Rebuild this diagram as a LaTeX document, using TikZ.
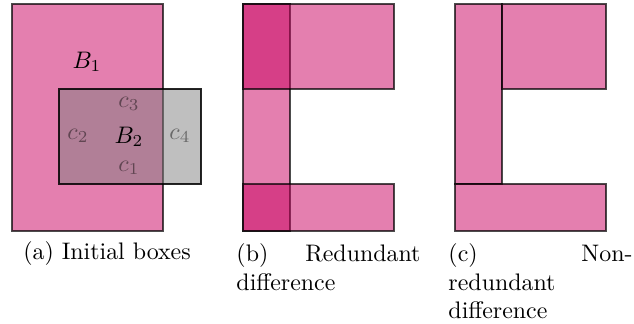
\documentclass[tikz,border=0pt]{standalone}
\definecolor{pinkC}{RGB}{201,0,95}
\tikzset{
  box/.style={fill=pinkC, fill opacity=0.5, draw=black, draw opacity=0.7, line width=0.45pt},
  greybox/.style={fill=gray, fill opacity=0.5, draw=black, draw opacity=0.85, line width=0.45pt},
  lab/.style={inner sep=0pt},
  clab/.style={inner sep=0pt, text=black, text opacity=0.45},
  captext/.style={inner sep=0pt, anchor=north west, text width=77pt, align=left}
}
\begin{document}
\begin{tikzpicture}[x=0.4184pt, y=-0.4184pt]
\useasboundingbox (0,0) rectangle (634,324);
% (a) initial boxes
\draw[box] (12,4) rectangle (163,231);
\draw[greybox] (59,89) rectangle (201,184);
\node[lab] (b1) at (87,62) {$B_1$};
\node[lab] (b2) at (129,137) {$B_2$};
\node[clab] (c3) at (129,104) {$c_3$};
\node[clab] (c2) at (78,136) {$c_2$};
\node[clab] (c4) at (180,136) {$c_4$};
\node[clab] (c1) at (129,168) {$c_1$};
% (b) redundant difference
\draw[box] (243,4) rectangle (290,231);
\draw[box] (243,4) rectangle (394,89);
\draw[box] (243,184) rectangle (394,231);
% (c) non-redundant difference
\draw[box] (455,4) rectangle (502,184);
\draw[box] (502,4) rectangle (606,89);
\draw[box] (455,184) rectangle (606,231);
% captions
\node[inner sep=0pt, anchor=base] (capa) at (107,260) {(a) Initial boxes};
\node[captext] (capb) at (236,243) {(b)\hfill Redundant\\difference};
\node[captext] (capc) at (448,243) {(c)\hfill Non-\\redundant\\difference};
\end{tikzpicture}
\end{document}
